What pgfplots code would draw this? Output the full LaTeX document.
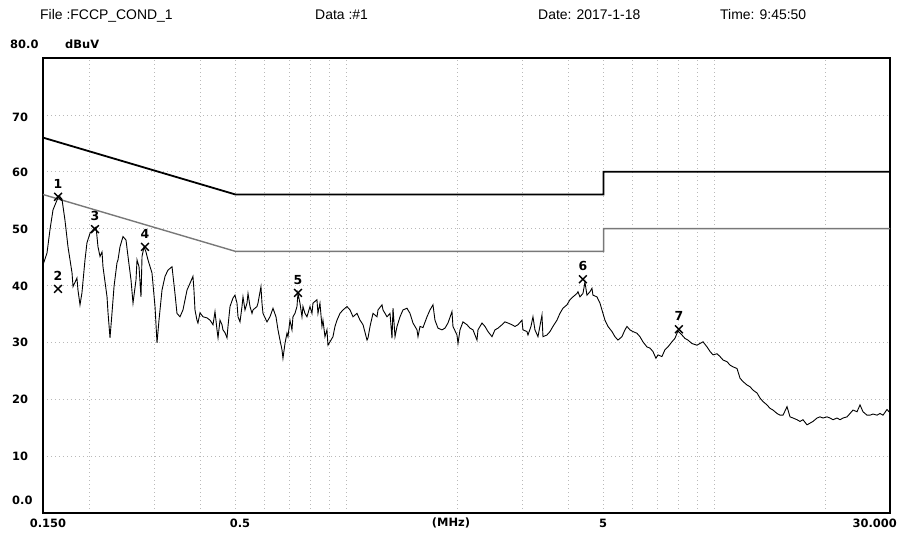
\documentclass[border=0pt]{standalone}
\usepackage{fontspec}
\setmainfont{Liberation Sans}
\newfontfamily\djv{DejaVu Sans}
\usepackage{pgfplots}
\pgfplotsset{compat=1.18}
\newcommand{\tl}{\djv\bfseries\fontsize{11.5}{12}\selectfont}
\newcommand{\ml}{\djv\bfseries\fontsize{12.5}{13}\selectfont}
\begin{document}
\begin{tikzpicture}[x=1bp,y=1bp]
\useasboundingbox (0,0) rectangle (897,533);
\begin{axis}[
  at={(43bp,20bp)}, anchor=south west,
  scale only axis, width=847bp, height=455bp,
  xmode=log, xmin=0.15, xmax=30, ymin=0, ymax=80,
  xtick={0.5,1,5}, minor xtick={0.2,0.3,0.4,0.6,0.7,0.8,0.9,2,3,4,6,7,8,9,10,20},
  ytick={10,20,30,40,50,60,70},
  xticklabels={}, yticklabels={},
  major tick length=0pt, minor tick length=0pt,
  xmajorgrids, xminorgrids, ymajorgrids,
  grid style={gray!55, line width=0.6bp, dash pattern=on 1bp off 3bp},
  minor grid style={gray!55, line width=0.6bp, dash pattern=on 1bp off 3bp},
  axis line style={black, line width=1.3bp},
]
% QP limit
\addplot[black, line width=1.8bp] coordinates {(0.15,66) (0.5,56) (5,56) (5,60) (30,60)};
% AV limit
\addplot[color={rgb,255:red,120;green,120;blue,120}, line width=1.4bp] coordinates {(0.15,56) (0.5,46) (5,46) (5,50) (30,50)};
% trace
\addplot[black, line width=0.9bp] table {
0.1500 43.6
0.1538 45.7
0.1567 49.8
0.1597 53.3
0.1637 55.0
0.1658 55.8
0.1689 55.2
0.1721 51.5
0.1754 46.8
0.1799 42.2
0.1810 39.8
0.1855 41.3
0.1867 39.2
0.1891 36.6
0.1914 38.7
0.1951 44.5
0.1975 47.5
0.2013 49.2
0.2051 49.8
0.2090 50.3
0.2116 46.8
0.2143 45.1
0.2170 45.9
0.2183 43.3
0.2239 38.0
0.2253 35.2
0.2281 30.8
0.2310 35.2
0.2339 39.8
0.2383 44.0
0.2398 44.5
0.2428 46.8
0.2474 48.6
0.2521 48.0
0.2553 45.1
0.2601 41.0
0.2634 36.9
0.2684 41.0
0.2701 44.5
0.2735 43.3
0.2769 38.0
0.2787 45.1
0.2822 46.8
0.2857 45.9
0.2893 44.5
0.2966 42.2
0.3023 36.3
0.3061 29.9
0.3099 33.9
0.3158 39.2
0.3218 41.6
0.3278 42.7
0.3362 43.3
0.3425 38.6
0.3468 35.1
0.3534 34.5
0.3601 35.7
0.3693 39.2
0.3763 40.4
0.3833 41.6
0.3857 39.2
0.3882 35.7
0.3930 33.9
0.3955 33.4
0.4005 35.2
0.4081 34.5
0.4184 34.3
0.4264 33.9
0.4345 33.1
0.4399 35.4
0.4455 32.2
0.4483 30.8
0.4539 33.9
0.4596 33.1
0.4624 32.2
0.4683 31.7
0.4742 30.8
0.4771 32.8
0.4832 36.3
0.4923 37.8
0.4985 38.3
0.5048 36.9
0.5080 34.5
0.5144 33.6
0.5208 36.3
0.5241 38.0
0.5307 35.7
0.5374 36.9
0.5408 38.6
0.5476 36.3
0.5545 35.1
0.5579 35.7
0.5720 36.3
0.5756 36.9
0.5865 39.8
0.5902 36.9
0.5939 35.1
0.6090 33.6
0.6205 34.5
0.6323 36.0
0.6442 34.5
0.6524 32.2
0.6606 30.4
0.6689 28.7
0.6730 27.2
0.6815 29.8
0.6900 31.6
0.6944 31.0
0.7031 33.9
0.7120 32.2
0.7164 34.5
0.7255 35.1
0.7346 36.3
0.7392 38.6
0.7485 36.9
0.7580 34.5
0.7627 36.3
0.7723 35.1
0.7821 34.5
0.7969 36.3
0.8069 35.1
0.8119 36.9
0.8324 37.5
0.8377 35.1
0.8482 36.9
0.8589 32.8
0.8643 33.9
0.8752 31.0
0.8862 32.2
0.8918 29.5
0.9030 30.1
0.9201 31.0
0.9317 32.8
0.9435 33.9
0.9613 35.1
0.9797 35.7
1.0045 36.3
1.0236 35.7
1.0430 34.5
1.0694 35.1
1.0897 33.9
1.1104 33.1
1.1385 30.4
1.1457 30.8
1.1601 32.8
1.1819 35.1
1.2118 34.5
1.2195 35.7
1.2504 36.6
1.2582 35.7
1.2901 34.5
1.3146 35.1
1.3311 30.7
1.3395 36.0
1.3564 31.0
1.3735 32.8
1.3995 34.5
1.4258 35.7
1.4619 36.0
1.4896 35.1
1.5179 33.4
1.5564 32.2
1.5661 31.0
1.5859 32.8
1.6159 32.6
1.6569 34.5
1.6883 35.7
1.7200 36.6
1.7417 33.9
1.7747 32.5
1.8197 32.2
1.8541 32.5
1.8893 33.4
1.9372 35.4
1.9494 32.8
1.9988 31.3
2.0113 29.8
2.0367 32.2
2.0750 33.6
2.1276 33.1
2.1679 32.5
2.2090 32.2
2.2650 30.4
2.2792 32.2
2.3370 33.4
2.3813 32.8
2.4265 31.9
2.4880 31.0
2.5347 32.2
2.5828 32.5
2.6482 33.1
2.6984 33.6
2.7496 33.4
2.8193 33.1
2.8727 32.8
2.9272 33.1
3.0014 33.9
3.0198 32.2
3.0963 31.9
3.1158 31.3
3.1748 32.8
3.2148 34.5
3.2553 32.2
3.3170 31.0
3.4011 34.8
3.4225 31.0
3.5093 31.3
3.5758 31.9
3.6430 32.8
3.7353 33.9
3.8061 35.1
3.8783 36.0
3.9766 36.6
4.0520 37.5
4.1288 38.0
4.2335 38.6
4.2601 38.9
4.3137 38.0
4.3948 38.6
4.4501 40.6
4.5062 38.3
4.5916 38.9
4.6494 39.5
4.6786 38.3
4.7972 38.0
4.8882 36.9
4.9808 35.1
5.0436 33.9
5.1392 32.8
5.2695 31.9
5.3684 31.0
5.4702 30.4
5.6089 31.0
5.7152 32.2
5.7872 32.8
5.8969 32.2
6.0087 31.9
6.1610 31.6
6.2778 31.0
6.3958 30.1
6.5579 29.2
6.6822 29.0
6.8088 28.4
6.9379 27.2
7.0253 27.8
7.2034 27.5
7.3399 28.7
7.4791 29.2
7.6687 30.1
7.8129 30.7
7.9610 32.0
8.1629 31.3
8.3175 30.7
8.4752 30.4
8.6900 29.8
8.9663 29.5
9.1364 29.8
9.3137 30.1
9.5497 29.2
9.7308 28.4
9.9152 27.8
10.167 28.0
10.359 27.5
10.556 26.9
10.823 26.6
11.028 26.0
11.236 25.7
11.521 25.4
11.739 23.7
11.962 23.1
12.265 22.5
12.497 22.2
12.734 21.6
13.057 21.1
13.305 20.2
13.555 19.6
13.898 19.0
14.162 18.4
14.430 18.1
14.796 17.5
15.077 17.2
15.363 17.2
15.752 18.7
16.051 16.9
16.353 16.7
16.767 16.4
17.085 16.1
17.409 16.4
17.850 15.5
18.189 15.8
18.534 16.1
19.004 16.7
19.364 16.9
19.728 16.7
20.228 16.9
20.611 16.7
21.002 16.4
21.534 16.7
21.943 16.4
22.359 16.7
22.926 16.9
23.360 17.5
23.799 18.1
24.402 17.8
24.865 19.0
25.336 17.8
25.978 17.2
26.471 17.2
26.973 17.4
27.656 17.2
28.181 17.5
28.712 17.2
29.440 18.2
29.811 17.8
30.000 17.9
};
% markers
\addplot[only marks, mark=x, mark size=5.5bp, mark options={black, line width=1.4bp},
  point meta=explicit symbolic, nodes near coords,
  every node near coord/.append style={font=\ml, anchor=center, yshift=13bp, inner sep=0pt, text=black}]
  coordinates {(0.1648,55.6)[1] (0.1648,39.4)[2] (0.2077,49.9)[3] (0.2839,46.8)[4] (0.7392,38.7)[5] (4.3948,41.1)[6] (8.011,32.3)[7]};
\end{axis}
% header
\begin{scope}[every node/.style={inner sep=0pt, anchor=base west, font=\fontsize{14}{16}\selectfont}]
\node at (40,513) {File :FCCP\_COND\_1};
\node at (315,513) {Data :\#1};
\node at (538,513) {Date: 2017-1-18};
\node at (720,513) {Time: 9:45:50};
\end{scope}
% y tick labels and unit
\begin{scope}[every node/.style={inner sep=0pt, anchor=west, font=\tl}]
\node at (10,489) {80.0};
\node at (65,489) {dBuV};
\node at (12,416) {70};
\node at (12,360.5) {60};
\node at (12,304) {50};
\node at (12,247) {40};
\node at (12,190.5) {30};
\node at (12,134) {20};
\node at (12,77) {10};
\node at (12,33) {0.0};
\end{scope}
% x tick labels
\begin{scope}[every node/.style={inner sep=0pt, anchor=center, font=\tl}]
\node at (48,10) {0.150};
\node at (240,10) {0.5};
\node at (451,10) {(MHz)};
\node at (603,10) {5};
\node[anchor=east] at (897,10) {30.000};
\end{scope}
\end{tikzpicture}
\end{document}
